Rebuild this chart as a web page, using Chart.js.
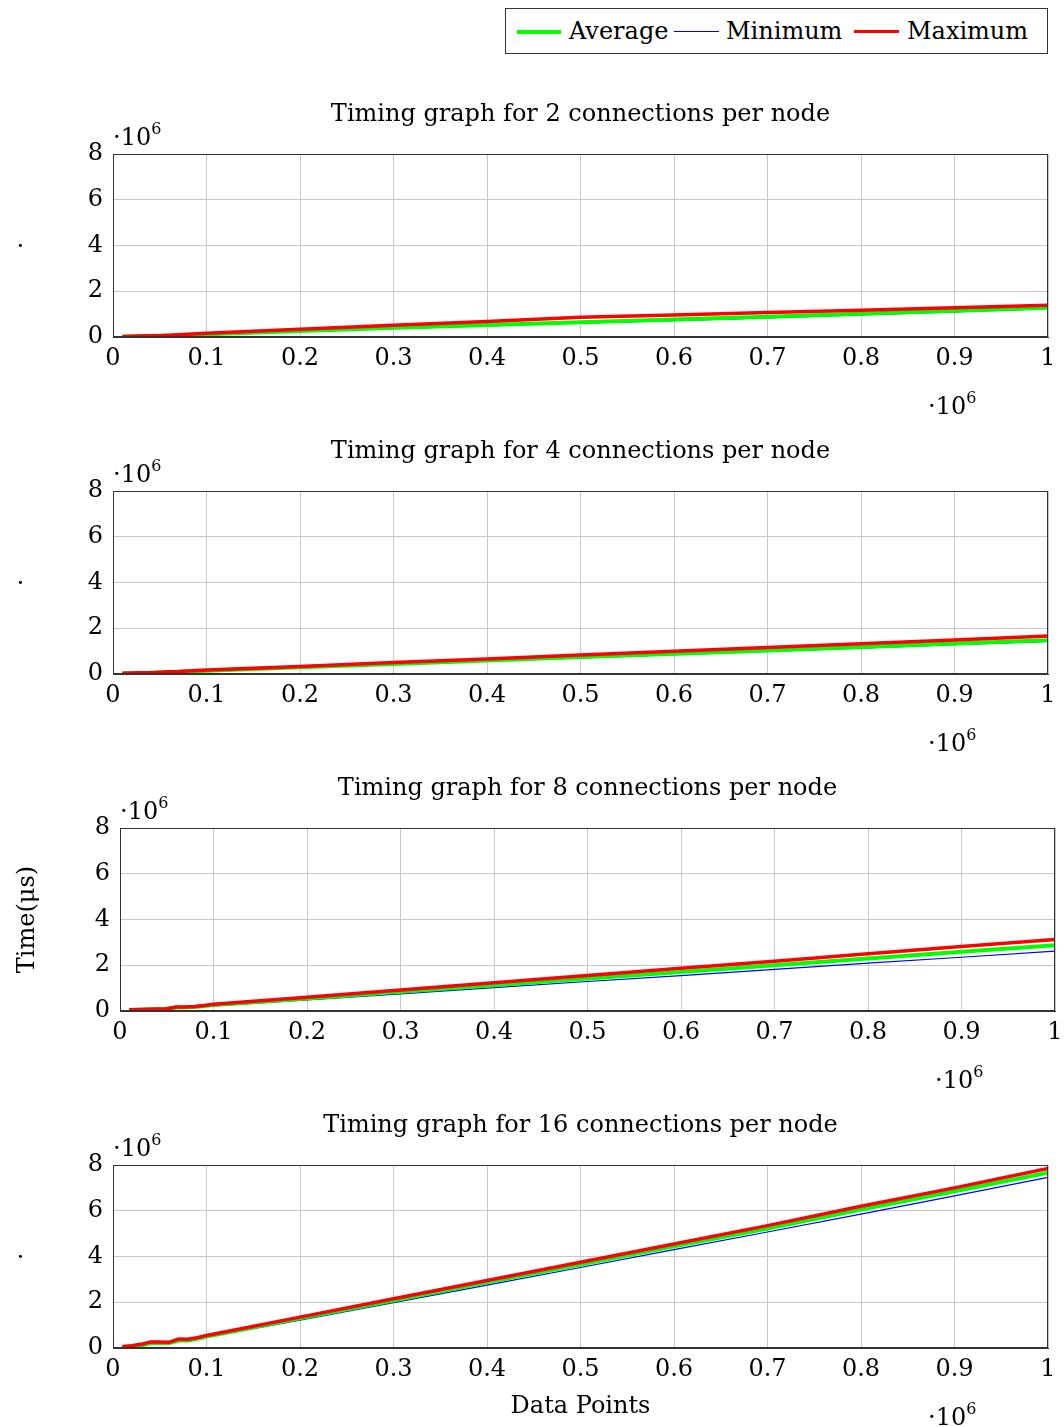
<!DOCTYPE html>
<html><head><meta charset="utf-8">
<script src="https://cdn.jsdelivr.net/npm/chart.js@4/dist/chart.umd.min.js"></script>
<style>
html,body{margin:0;padding:0;background:#fff;overflow:hidden;}
#wrap{position:relative;width:1064px;height:1427px;font-family:"DejaVu Serif",serif;color:#000;overflow:hidden;}
canvas{position:absolute;left:0;}
.t{position:absolute;font-size:24px;white-space:nowrap;line-height:1;}
.exp sup{font-size:16px;position:relative;top:-2px;}
#legend{position:absolute;left:505px;top:8px;width:541px;height:44px;border:1px solid #333;box-sizing:content-box;font-size:24px;}
#legend .sw{position:absolute;top:22px;}
#legend .lb{position:absolute;top:10px;line-height:1;}
</style></head>
<body><div id="wrap">
<div id="legend">
 <div class="sw" style="left:11px;width:44px;border-top:4px solid #00ff00;top:21px"></div><div class="lb" style="left:63px">Average</div>
 <div class="sw" style="left:168px;width:45px;border-top:1px solid #0000ff;"></div><div class="lb" style="left:220px">Minimum</div>
 <div class="sw" style="left:348px;width:45px;border-top:3px solid #ff0000;top:21px"></div><div class="lb" style="left:401px">Maximum</div>
</div>
</div>
<script>
// x values in units of 10^6 data points
const xPoints = [0.01,0.02,0.03,0.04,0.05,0.06,0.07,0.08,0.09,0.1,0.2,0.3,0.4,0.5,0.6,0.7,0.8,0.9,1.0];
const xTicks = [0,0.1,0.2,0.3,0.4,0.5,0.6,0.7,0.8,0.9,1];
const yTicks = [0,2,4,6,8];
const titles = ["Timing graph for 2 connections per node","Timing graph for 4 connections per node","Timing graph for 8 connections per node","Timing graph for 16 connections per node"];
// time values in units of 10^6 microseconds
const avg2 = [0.01,0.02,0.03,0.04,0.05,0.06,0.08,0.09,0.11,0.12,0.26,0.40,0.52,0.65,0.77,0.89,1.02,1.15,1.28];
const min2 = [0.01,0.02,0.02,0.03,0.04,0.05,0.06,0.07,0.09,0.10,0.23,0.36,0.48,0.60,0.72,0.84,0.97,1.10,1.24];
const max2 = [0.02,0.03,0.04,0.05,0.06,0.08,0.10,0.12,0.14,0.16,0.34,0.51,0.68,0.86,0.96,1.07,1.17,1.28,1.39];
const avg4 = [0.02,0.03,0.04,0.05,0.07,0.08,0.09,0.11,0.12,0.14,0.29,0.44,0.59,0.74,0.89,1.03,1.18,1.33,1.48];
const min4 = [0.02,0.03,0.04,0.05,0.06,0.08,0.09,0.10,0.12,0.13,0.27,0.42,0.56,0.70,0.85,0.99,1.13,1.28,1.42];
const max4 = [0.03,0.04,0.05,0.06,0.08,0.10,0.11,0.13,0.15,0.17,0.33,0.50,0.66,0.83,0.99,1.16,1.32,1.49,1.66];
const avg8 = [0.04,0.06,0.07,0.08,0.09,0.15,0.16,0.18,0.22,0.26,0.55,0.84,1.13,1.42,1.71,2.00,2.30,2.59,2.88];
const min8 = [0.03,0.05,0.06,0.07,0.08,0.13,0.14,0.16,0.19,0.22,0.49,0.75,1.02,1.29,1.55,1.82,2.09,2.35,2.62];
const max8 = [0.05,0.07,0.08,0.09,0.10,0.17,0.18,0.20,0.24,0.29,0.60,0.92,1.23,1.55,1.87,2.18,2.50,2.82,3.13];
const avg16 = [0.04,0.07,0.10,0.22,0.22,0.22,0.33,0.33,0.40,0.50,1.30,2.08,2.87,3.65,4.45,5.22,6.05,6.85,7.66];
const min16 = [0.03,0.06,0.09,0.20,0.20,0.20,0.31,0.31,0.38,0.47,1.22,1.98,2.75,3.52,4.30,5.07,5.85,6.65,7.46];
const max16 = [0.07,0.10,0.16,0.26,0.26,0.25,0.39,0.38,0.45,0.55,1.35,2.15,2.95,3.75,4.55,5.35,6.20,7.00,7.85];
const series = [[avg2,min2,max2],[avg4,min4,max4],[avg8,min8,max8],[avg16,min16,max16]];
const yTitles = ["\u00b7","\u00b7","Time(\u03bcs)","\u00b7"];
const xTitles = ["","","","Data Points"];

const FONT = "DejaVu Serif";
const FS = 24;
const tops = [154,491,828,1165];
const lefts = [113,113,120,113];
const yTitlePad = [8,8,13,8];
const W = 935, H = 183, PADT = 60, PADB = 79, CW = 1100;
const wrap = document.getElementById('wrap');

const frame = {id:'frame', afterDraw(c){const a=c.chartArea,x=c.ctx;x.save();x.strokeStyle='#333';x.lineWidth=1;x.strokeRect(Math.round(a.left)+0.5,Math.round(a.top)+0.5,Math.round(a.right-a.left)-1,Math.round(a.bottom-a.top)-1);x.restore();}};

function pts(arr){return arr.map((v,i)=>({x:xPoints[i],y:v}));}

for(let i=0;i<4;i++){
  const L=lefts[i], T=tops[i];
  const cv=document.createElement('canvas');
  const ch=H+PADT+PADB;
  cv.width=CW; cv.height=ch;
  cv.style.width=CW+'px'; cv.style.height=ch+'px'; cv.style.top=(T-PADT)+'px';
  wrap.appendChild(cv);
  const tt=document.createElement('div'); tt.className='t'; tt.textContent=titles[i];
  tt.style.left=(L+W/2)+'px'; tt.style.top=(T-53)+'px'; tt.style.transform='translateX(-50%)';
  wrap.appendChild(tt);
  const ey=document.createElement('div'); ey.className='t exp'; ey.innerHTML='\u00b710<sup>6</sup>';
  ey.style.left=(L)+'px'; ey.style.top=(T-31)+'px'; wrap.appendChild(ey);
  const ex=document.createElement('div'); ex.className='t exp'; ex.innerHTML='\u00b710<sup>6</sup>';
  ex.style.left=(L+815)+'px'; ex.style.top=(T+H+55)+'px'; wrap.appendChild(ex);
  const [a,mn,mx]=series[i];
  new Chart(cv,{
    type:'line',
    data:{datasets:[
      {label:'Average',data:pts(a),borderColor:'#00ff00',borderWidth:4,pointRadius:0,order:1},
      {label:'Minimum',data:pts(mn),borderColor:'#0000ff',borderWidth:1.2,pointRadius:0,order:2},
      {label:'Maximum',data:pts(mx),borderColor:'#ff0000',borderWidth:3.5,pointRadius:0,order:0}
    ]},
    options:{
      responsive:false,animation:false,devicePixelRatio:1,
      layout:{padding:{top:PADT,left:0,right:CW-(L+W),bottom:0}},
      plugins:{legend:{display:false},tooltip:{enabled:false},title:{display:false}},
      scales:{
        x:{type:'linear',min:0,max:1,
          afterBuildTicks:s=>{s.ticks=xTicks.map(v=>({value:v}));},
          afterFit:s=>{s.height=PADB;},
          ticks:{color:'#000',font:{family:FONT,size:FS},padding:7,maxRotation:0,autoSkip:false,
            callback:v=>String(Math.round(v*10)/10)},
          grid:{color:'#c8c8c8',lineWidth:1,drawTicks:false},
          border:{color:'#333',width:1},
          title:{display:xTitles[i]!=='',text:xTitles[i],color:'#000',font:{family:FONT,size:FS},padding:{top:0,bottom:6}}
        },
        y:{type:'linear',min:0,max:8,
          afterBuildTicks:s=>{s.ticks=yTicks.map(v=>({value:v}));},
          afterFit:s=>{s.width=L;},
          ticks:{color:'#000',font:{family:FONT,size:FS},padding:10,callback:v=>String(v)},
          grid:{color:'#c8c8c8',lineWidth:1,drawTicks:false},
          border:{color:'#333',width:1},
          title:{display:true,text:yTitles[i],color:'#000',font:{family:FONT,size:FS},padding:{top:yTitlePad[i],bottom:4}}
        }
      }
    },
    plugins:[frame]
  });
}
</script>
</body></html>
